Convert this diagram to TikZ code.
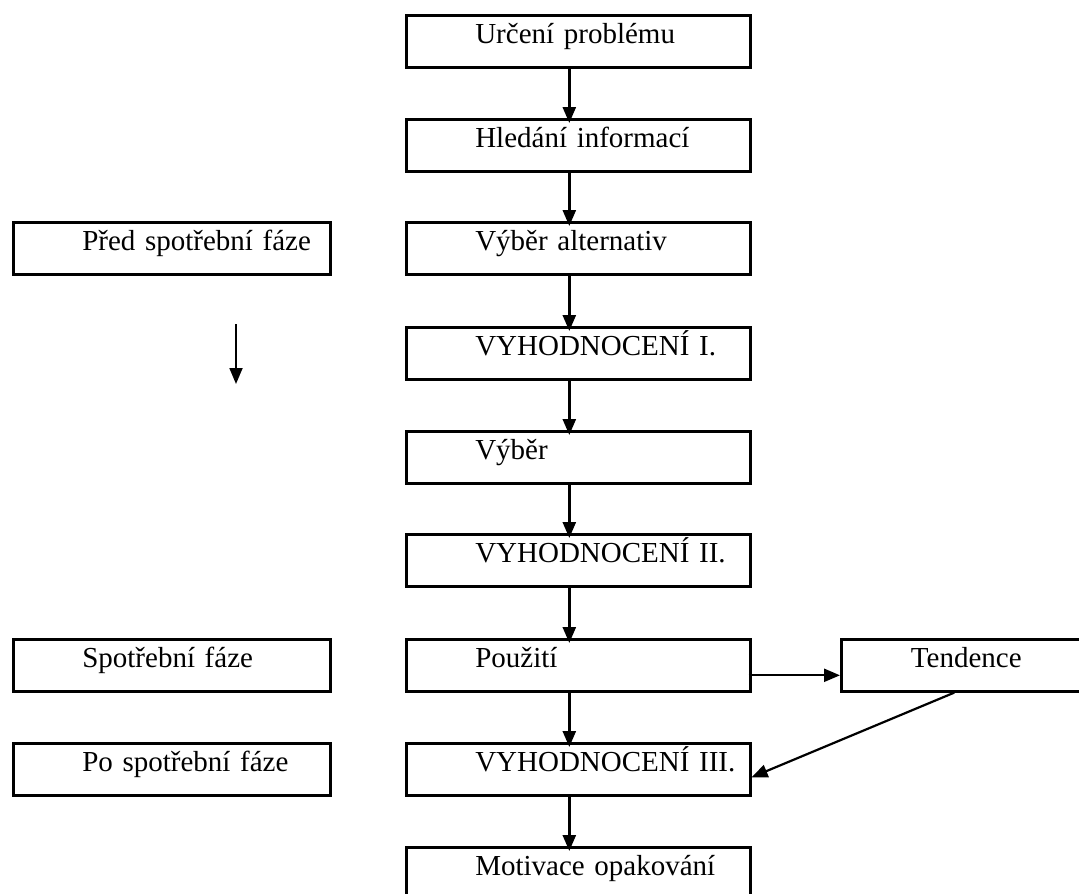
\documentclass[tikz,border=0pt]{standalone}
\usepackage{fontspec}
\setmainfont{Liberation Serif}
\usetikzlibrary{arrows.meta}

\begin{document}
\begin{tikzpicture}[x=1pt, y=-1pt, >={Triangle[length=16pt, width=13pt]},
  krok/.style={draw, line width=2.6pt, inner xsep=0pt, inner ysep=0pt,
    text width=344pt, align=left, text height=28pt, text depth=24pt,
    anchor=north west, font=\fontsize{29}{34}\selectfont},
  faze/.style={krok, text width=317pt},
  sipka/.style={line width=2.6pt, ->}]

\useasboundingbox (0,0) rectangle (1079,894);
\clip (0,0) rectangle (1079,894);

\def\Xs{405}
\def\Xl{12}
\def\Odsaz{\noindent\hspace*{69pt}}

% hlavni sloupec
\node[krok] (urceni)  at (\Xs, 14)  {\Odsaz Určení problému};
\node[krok] (hledani) at (\Xs, 118) {\Odsaz Hledání informací};
\node[krok] (altern)  at (\Xs, 221) {\Odsaz Výběr alternativ};
\node[krok] (vyhodA)  at (\Xs, 326) {\Odsaz VYHODNOCENÍ I.};
\node[krok] (vyber)   at (\Xs, 430) {\Odsaz Výběr};
\node[krok] (vyhodB)  at (\Xs, 533) {\Odsaz VYHODNOCENÍ II.};
\node[krok] (pouziti) at (\Xs, 638) {\Odsaz Použití};
\node[krok] (vyhodC)  at (\Xs, 742) {\Odsaz VYHODNOCENÍ III.};
\node[krok] (motiv)   at (\Xs, 846) {\Odsaz Motivace opakování};

% faze vlevo
\node[faze] (pred) at (\Xl, 221) {\Odsaz Před spotřební fáze};
\node[faze] (spot) at (\Xl, 638) {\Odsaz Spotřební fáze};
\node[faze] (po)   at (\Xl, 742) {\Odsaz Po spotřební fáze};

\node[krok, text width=250pt, align=center] (tendence) at (840, 638) {Tendence};

\foreach \a/\b in {urceni/hledani, hledani/altern, altern/vyhodA, vyhodA/vyber,
                   vyber/vyhodB, vyhodB/pouziti, pouziti/vyhodC, vyhodC/motiv}
  \draw[sipka] ([xshift=-9pt]\a.south) -- ([xshift=-9pt, yshift=-5pt]\b.north);

\draw[sipka, line width=2.2pt] ([xshift=-3pt, yshift=-10pt]pouziti.east) -- ([yshift=-10pt]tendence.west);
\draw[sipka, line width=2.2pt] ([xshift=-12pt]tendence.south) -- ([yshift=-8pt]vyhodC.east);

\coordinate (sipkaA) at (236, 324);
\coordinate (sipkaB) at (236, 384);
\draw[line width=1.8pt, ->] (sipkaA) -- (sipkaB);

\end{tikzpicture}
\end{document}
